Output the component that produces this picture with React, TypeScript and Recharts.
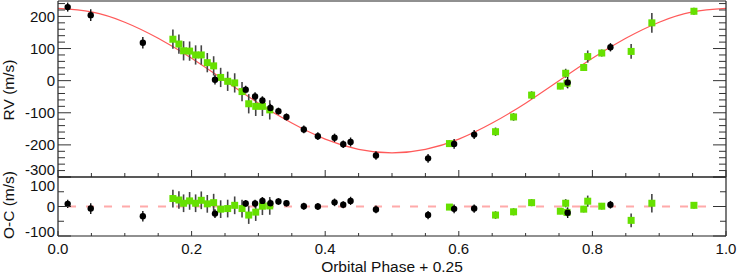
import React from 'react';
import { ComposedChart, Scatter, Line, XAxis, YAxis, ErrorBar } from 'recharts';

// ---- Data ----
const blackPhase = [0.0145, 0.049, 0.127, 0.235, 0.281, 0.295, 0.306, 0.318, 0.330, 0.342, 0.368, 0.389, 0.414, 0.427, 0.438, 0.476, 0.554, 0.593, 0.623, 0.763, 0.827];
const blackRV = [229, 204, 118, 3, -28, -49, -62, -85, -95, -113, -152, -173, -178, -198, -191, -233, -242, -197, -168, -6, 104];
const blackErr = [14, 18, 18, 15, 12, 13, 13, 13, 11, 11, 12, 12, 13, 12, 14, 13, 14, 15, 14, 18, 13];
const blackOC = [9, -7, -33, -24, 10, 10, 19, 11, 17, 11, 1, 0, 14, 6, 19, -10, -29, -8, -7, -21, 6];

const greenPhase = [0.172, 0.181, 0.188, 0.197, 0.206, 0.2145, 0.2235, 0.233, 0.2435, 0.254, 0.2645, 0.2755, 0.2855, 0.296, 0.306, 0.317, 0.586, 0.655, 0.682, 0.709, 0.752, 0.760, 0.762, 0.787, 0.793, 0.814, 0.858, 0.889, 0.952];
const greenRV = [129, 114, 93, 92, 80, 80, 56, 46, 10, -2, -7, -34, -72, -80, -80, -91, -196, -159, -113, -45, -17, 23, -8, 41, 75, 86, 91, 180, 216];
const greenErr = [30, 30, 30, 30, 30, 30, 30, 30, 30, 30, 30, 30, 30, 30, 30, 30, 10, 13, 12, 12, 10, 14, 13, 11, 19, 11, 23, 31, 11];
const greenOC = [27, 22, 11, 19, 11, 21, 9, 13, -9, -7, 4, -7, -29, -19, 1, 2, -2, -29, -18, 13, -16, 11, -20, -9, 18, 1, -47, 11, 4];

const modelPhase = [0, 0.05, 0.1, 0.15, 0.2, 0.25, 0.3, 0.35, 0.4, 0.45, 0.5, 0.55, 0.6, 0.65, 0.7, 0.75, 0.8, 0.85, 0.9, 0.95, 1.0];
const modelRV = [225, 214, 182, 132, 70, 0, -70, -132, -182, -214, -225, -214, -182, -132, -70, 0, 70, 132, 182, 214, 225];

const zeroLinePhase = [0.015, 0.98];
const zeroLineValue = [0, 0];

const xTicks = [0, 0.05, 0.1, 0.15, 0.2, 0.25, 0.3, 0.35, 0.4, 0.45, 0.5, 0.55, 0.6, 0.65, 0.7, 0.75, 0.8, 0.85, 0.9, 0.95, 1.0];
const xMajors = [0, 0.2, 0.4, 0.6, 0.8, 1.0];
const rvTicks = [-300, -280, -260, -240, -220, -200, -180, -160, -140, -120, -100, -80, -60, -40, -20, 0, 20, 40, 60, 80, 100, 120, 140, 160, 180, 200, 220, 240];
const rvMajors = [-300, -200, -100, 0, 100, 200];
const ocTicks = [-100, -50, 0, 50, 100];
const ocMajors = [-100, 0, 100];

const rvDomain = [-300, 248];
const ocDomain = [-100, 100];

// ---- Build rows ----
const blackRVData = blackPhase.map((x, i) => ({ x, y: blackRV[i], e: blackErr[i] }));
const greenRVData = greenPhase.map((x, i) => ({ x, y: greenRV[i], e: greenErr[i] }));
const blackOCData = blackPhase.map((x, i) => ({ x, y: blackOC[i], e: blackErr[i] }));
const greenOCData = greenPhase.map((x, i) => ({ x, y: greenOC[i], e: greenErr[i] }));
const modelData = modelPhase.map((x, i) => ({ x, y: modelRV[i] }));
const zeroData = zeroLinePhase.map((x, i) => ({ x, y: zeroLineValue[i] }));

const GREEN = '#66e000';
const FONT = '"Liberation Sans", Arial, Helvetica, sans-serif';
const FS = 15.5;
const TFS = 15;
const TEXT = '#111';
const FRAME = '#222';
const TICK = '#333';

const isIn = (arr: number[], v: number) => arr.some((m) => Math.abs(m - v) < 1e-9);

type Side = 'left' | 'right' | 'top' | 'bottom';

const makeTick = (
  side: Side,
  majors: number[],
  majorLen: number,
  minorLen: number,
  showLabel: boolean,
  fmt: (v: number) => string,
  shift: Record<string, number> = {}
) => (props: any) => {
  const { x, y, payload } = props;
  const v = payload.value as number;
  const major = isIn(majors, v);
  const len = major ? majorLen : minorLen;
  let x2 = x, y2 = y;
  if (side === 'left') x2 = x + len;
  if (side === 'right') x2 = x - len;
  if (side === 'top') y2 = y + len;
  if (side === 'bottom') y2 = y - len;
  const label = showLabel && major ? fmt(v) : null;
  const dy = shift[String(v)] || 0;
  return (
    <g>
      <line x1={x} y1={y} x2={x2} y2={y2} stroke={TICK} strokeWidth={1} />
      {label !== null && side === 'left' && (
        <text x={x - 3} y={y + TFS * 0.36 + dy} textAnchor="end" fontFamily={FONT} fontSize={TFS} fill={TEXT}>
          {label}
        </text>
      )}
      {label !== null && side === 'bottom' && (
        <text x={x} y={y + 18} textAnchor="middle" fontFamily={FONT} fontSize={TFS} fill={TEXT}>
          {label}
        </text>
      )}
    </g>
  );
};

const squareShape = (props: any) => {
  const { cx, cy } = props;
  if (cx == null || cy == null) return <g />;
  return <rect x={cx - 3.5} y={cy - 3.5} width={7} height={7} fill={GREEN} />;
};

const circleShape = (props: any) => {
  const { cx, cy } = props;
  if (cx == null || cy == null) return <g />;
  return <circle cx={cx} cy={cy} r={3.2} fill="#000" />;
};

const axisLineStyle = { stroke: FRAME, strokeWidth: 1.2 };

export default function App() {
  return (
    <div style={{ position: 'absolute', left: 0, top: 0, width: 738, height: 278, background: '#fff', overflow: 'hidden' }}>
      {/* Top panel: RV */}
      <div style={{ position: 'absolute', left: 0, top: 0 }}>
        <ComposedChart width={738} height={196} margin={{ top: 0, right: 11, bottom: 18, left: 57 }}>
          <XAxis xAxisId="b" dataKey="x" type="number" domain={[0, 1]} allowDataOverflow ticks={xTicks} interval={0}
            orientation="bottom" height={1} tickSize={0} tickMargin={0} tickLine={false} axisLine={axisLineStyle}
            tick={makeTick('bottom', xMajors, 7, 4, false, (v) => v.toFixed(1))} />
          <XAxis xAxisId="t" type="number" domain={[0, 1]} allowDataOverflow ticks={xTicks} interval={0}
            orientation="top" height={1} tickSize={0} tickMargin={0} tickLine={false} axisLine={axisLineStyle}
            tick={makeTick('top', xMajors, 5, 3, false, (v) => v.toFixed(1))} />
          <YAxis yAxisId="l" dataKey="y" type="number" domain={rvDomain} allowDataOverflow ticks={rvTicks} interval={0}
            orientation="left" width={1} tickSize={0} tickMargin={0} tickLine={false} axisLine={axisLineStyle}
            tick={makeTick('left', rvMajors, 13, 7, true, (v) => String(v), { '-300': -7 })} />
          <YAxis yAxisId="r" type="number" domain={rvDomain} allowDataOverflow ticks={rvTicks} interval={0}
            orientation="right" width={1} tickSize={0} tickMargin={0} tickLine={false} axisLine={axisLineStyle}
            tick={makeTick('right', rvMajors, 13, 7, false, (v) => String(v))} />
          <Line xAxisId="b" yAxisId="l" data={modelData} dataKey="y" type="natural" dot={false} activeDot={false}
            stroke="#ff5a5a" strokeWidth={1.2} isAnimationActive={false} />
          <Scatter xAxisId="b" yAxisId="l" data={greenRVData} dataKey="y" shape={squareShape} isAnimationActive={false}>
            <ErrorBar dataKey="e" direction="y" width={0} stroke="#444" strokeWidth={1.6} isAnimationActive={false} />
          </Scatter>
          <Scatter xAxisId="b" yAxisId="l" data={blackRVData} dataKey="y" shape={circleShape} isAnimationActive={false}>
            <ErrorBar dataKey="e" direction="y" width={0} stroke="#111" strokeWidth={1.4} isAnimationActive={false} />
          </Scatter>
        </ComposedChart>
      </div>

      {/* Bottom panel: O-C */}
      <div style={{ position: 'absolute', left: 0, top: 176 }}>
        <ComposedChart width={738} height={102} margin={{ top: 0, right: 11, bottom: 41, left: 57 }}>
          <XAxis xAxisId="b" dataKey="x" type="number" domain={[0, 1]} allowDataOverflow ticks={xTicks} interval={0}
            orientation="bottom" height={1} tickSize={0} tickMargin={0} tickLine={false} axisLine={axisLineStyle}
            tick={makeTick('bottom', xMajors, 5, 3, true, (v) => v.toFixed(1))} />
          <XAxis xAxisId="t" type="number" domain={[0, 1]} allowDataOverflow ticks={xTicks} interval={0}
            orientation="top" height={1} tickSize={0} tickMargin={0} tickLine={false} axisLine={axisLineStyle}
            tick={makeTick('top', xMajors, 4, 2, false, (v) => v.toFixed(1))} />
          <YAxis yAxisId="l" dataKey="y" type="number" domain={ocDomain} allowDataOverflow ticks={ocTicks} interval={0}
            orientation="left" width={1} tickSize={0} tickMargin={0} tickLine={false} axisLine={axisLineStyle}
            tick={makeTick('left', ocMajors, 13, 6, true, (v) => String(v), { '100': 9, '-100': -4 })} />
          <YAxis yAxisId="r" type="number" domain={ocDomain} allowDataOverflow ticks={ocTicks} interval={0}
            orientation="right" width={1} tickSize={0} tickMargin={0} tickLine={false} axisLine={axisLineStyle}
            tick={makeTick('right', ocMajors, 13, 6, false, (v) => String(v))} />
          <Line xAxisId="b" yAxisId="l" data={zeroData} dataKey="y" type="linear" dot={false} activeDot={false}
            stroke="#ffaaaa" strokeWidth={2} strokeDasharray="8 10" isAnimationActive={false} />
          <Scatter xAxisId="b" yAxisId="l" data={greenOCData} dataKey="y" shape={squareShape} isAnimationActive={false}>
            <ErrorBar dataKey="e" direction="y" width={0} stroke="#444" strokeWidth={1.6} isAnimationActive={false} />
          </Scatter>
          <Scatter xAxisId="b" yAxisId="l" data={blackOCData} dataKey="y" shape={circleShape} isAnimationActive={false}>
            <ErrorBar dataKey="e" direction="y" width={0} stroke="#111" strokeWidth={1.4} isAnimationActive={false} />
          </Scatter>
        </ComposedChart>
      </div>

      {/* Axis titles */}
      <div style={{ position: 'absolute', left: 9, top: 90, transform: 'translate(-50%, -50%) rotate(-90deg)', whiteSpace: 'nowrap', fontFamily: FONT, fontSize: FS, color: TEXT, lineHeight: 1 }}>
        RV (m/s)
      </div>
      <div style={{ position: 'absolute', left: 9, top: 205, transform: 'translate(-50%, -50%) rotate(-90deg)', whiteSpace: 'nowrap', fontFamily: FONT, fontSize: FS, color: TEXT, lineHeight: 1 }}>
        O-C (m/s)
      </div>
      <div style={{ position: 'absolute', left: 392, top: 259, transform: 'translateX(-50%)', whiteSpace: 'nowrap', fontFamily: FONT, fontSize: FS, color: TEXT, lineHeight: 1 }}>
        Orbital Phase + 0.25
      </div>
    </div>
  );
}
